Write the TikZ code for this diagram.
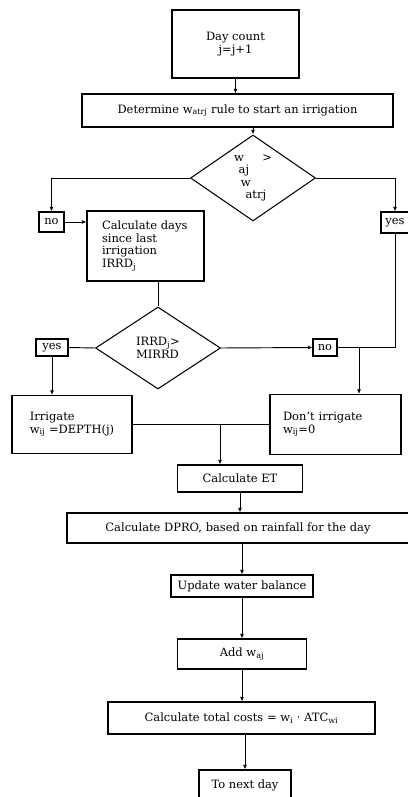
\documentclass[tikz,border=0pt]{standalone}
\usepackage{fontspec}
\setmainfont{DejaVu Serif}
\usetikzlibrary{arrows.meta,positioning,shapes.geometric}
\newcommand{\px}{0.03cm}

\begin{document}
\begin{tikzpicture}[
  x=\px, y=-\px,
  font=\fontsize{9.8}{10.6}\selectfont,
  box/.style={draw, line width=0.9pt, inner sep=0pt, align=center},
  lbox/.style={box, align=left},
  ans/.style={draw, line width=0.9pt, inner sep=0pt},
  test/.style={draw, diamond, line width=0.9pt, inner sep=0pt, align=left},
  size/.style 2 args={minimum width=#1*\px, minimum height=#2*\px},
  link/.style={line width=0.8pt},
  arrow/.style={link, -{Latex[length=4pt,width=3.5pt]}}
]
\useasboundingbox (0,0) rectangle (407,797);

\node[box, size={127}{68}] (day) at (235.5,44) {Day count\\j=j+1};
\node[box, size={311}{33}] (rule) at (237.5,110.5) {Determine w\textsubscript{atrj} rule to start an irrigation};
\node[test, size={125}{86}] (wtest) at (253,178) {w\hspace{1.6em}>\\\hspace{0.4em}aj\\\hspace{0.6em}w\\\hspace{1.0em}atrj};
\node[ans, size={25}{20}] (no1) at (51.5,222) {no};
\node[ans, size={28}{21}] (yes1) at (395,222.5) {yes};
\node[lbox, size={117}{70}, inner xsep=15*\px, text width=87*\px] (days) at (145.5,246) {Calculate days\\since last\\irrigation\\IRRD\textsubscript{j}};

\node[test, size={125}{82}] (irrd) at (158,348) {IRRD\textsubscript{j}>\\MIRRD};
\node[ans, size={32}{17}] (yes2) at (52,347.5) {yes};
\node[ans, size={24}{17}] (no2) at (325,347.5) {no};
\node[lbox, size={120}{58}] (irr) at (72,424.5) {Irrigate\\w\textsubscript{ij} =DEPTH(j)};
\node[lbox, size={131}{60}, inner xsep=13*\px, text width=105*\px] (noirr) at (335.5,424.5) {Don't irrigate\\w\textsubscript{ij}=0};

\node[box, size={125}{27}] (et) at (240,478.5) {Calculate ET};
\node[box, size={342}{30}] (dpro) at (238,528) {Calculate DPRO, based on rainfall for the day};
\node[box, size={142}{22}] (bal) at (242,586) {Update water balance};
\node[box, size={129}{30}] (add) at (242,654) {Add w\textsubscript{aj}};
\node[box, size={267}{32}] (cost) at (241.5,718) {Calculate total costs = w\textsubscript{i} · ATC\textsubscript{wi}};
\node[box, size={92}{30}] (next) at (245,785) {To next day};

\coordinate (merge) at (359,347.5);
\coordinate (join) at (220,424.5);

\draw[arrow] (day.south) -- (day.south |- rule.north);
\draw[arrow] (wtest.north |- rule.south) -- (wtest.north);
\draw[arrow] (wtest.west) -| (no1.north);
\draw[arrow] (wtest.east) -| (yes1.north);
\draw[arrow] (no1.east) -- (no1.east -| days.west);
\draw[link] (irrd.north |- days.south) -- (irrd.north);
\draw[link] (irrd.west) -- (yes2.east);
\draw[arrow] (yes2.south) -- (yes2.south |- irr.north);
\draw[arrow] (irrd.east) -- (no2.west);
\draw[link] (yes1.south) |- (no2.east);
\draw[arrow] (merge) -- (merge |- noirr.north);
\draw[link] (irr.east) -- (noirr.west);
\draw[arrow] (join) -- (join |- et.north);
\draw[arrow] (et.south) -- (et.south |- dpro.north);
\draw[arrow] (dpro.south -| bal.north) -- (bal.north);
\draw[arrow] (bal.south) -- (bal.south |- add.north);
\draw[arrow] (add.south) -- (add.south |- cost.north);
\draw[arrow] (cost.south -| next.north) -- (next.north);
\end{tikzpicture}
\end{document}
